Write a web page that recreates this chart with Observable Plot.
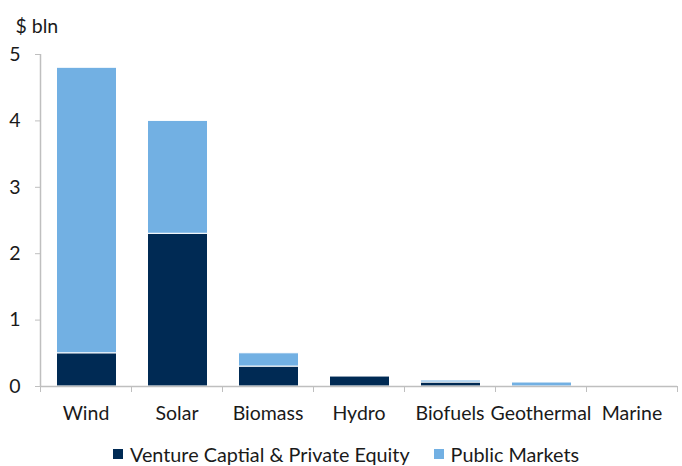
<!DOCTYPE html>
<html>
<head>
<meta charset="utf-8">
<script src="https://cdn.jsdelivr.net/npm/d3@7"></script>
<script src="https://cdn.jsdelivr.net/npm/@observablehq/plot@0.6"></script>
<style>
  html, body { margin: 0; padding: 0; background: #fff; overflow: hidden; }
  body { font-family: Lato, "Open Sans", sans-serif; color: #1a1a1a; }
  #legend { display: flex; align-items: center; height: 24px; margin-top: 10px; margin-left: 113px; font-size: 19.8px; }
  .item { display: flex; align-items: center; margin-right: 24px; }
  .swatch { width: 10px; height: 10px; margin-right: 7px; }
</style>
</head>
<body>
<div id="chart"></div>
<script>
// Clean-energy investment by sector, $ bln
const sectors = ["Wind", "Solar", "Biomass", "Hydro", "Biofuels", "Geothermal", "Marine"];
const ventureCapital = [0.5, 2.3, 0.3, 0.15, 0.06, 0, 0];
const publicMarkets = [4.3, 1.7, 0.2, 0, 0.03, 0.06, 0];
const seriesNames = ["Venture Captial & Private Equity", "Public Markets"];
const seriesColors = ["#002a54", "#72b0e3"];
const yTicks = [0, 1, 2, 3, 4, 5];

// Long-form rows; each sector occupies the unit interval [i, i + 1]
const rows = [];
sectors.forEach((s, i) => {
  rows.push({pos: i, sector: s, series: seriesNames[0], value: ventureCapital[i]});
  rows.push({pos: i, sector: s, series: seriesNames[1], value: publicMarkets[i]});
});
const bars = rows.filter(d => d.value > 0);
const boundaries = d3.range(sectors.length + 1);
const centers = sectors.map((_, i) => i + 0.5);

const font = "Lato, 'Open Sans', sans-serif";
const gray = "#bfbfbf";

const chart = Plot.plot({
  width: 682,
  height: 432,
  marginLeft: 40,
  marginRight: 5,
  marginTop: 54,
  marginBottom: 46,
  style: {fontFamily: font, fontSize: "19.5px", color: "#1a1a1a", background: "#fff"},
  x: {type: "linear", domain: [0, sectors.length]},
  y: {domain: [0, 5]},
  color: {domain: seriesNames, range: seriesColors},
  marks: [
    Plot.rectY(bars, {
      x1: "pos", x2: d => d.pos + 1, y: "value", fill: "series",
      stroke: "white", strokeWidth: 1, insetLeft: 16.5, insetRight: 14.5
    }),
    Plot.ruleX([0], {stroke: gray, strokeWidth: 1.5}),
    Plot.ruleY([0], {stroke: gray, strokeWidth: 1.5}),
    Plot.axisY(yTicks, {tickSize: 5, tickPadding: 15, stroke: gray, fill: "#1a1a1a", label: null, tickFormat: d => d}),
    Plot.axisX(boundaries, {tickSize: 6, tickFormat: () => "", stroke: gray, label: null}),
    Plot.axisX(centers, {tickSize: 0, tickPadding: 20, fill: "#1a1a1a", label: null, tickFormat: d => sectors[d - 0.5]}),
    Plot.text(["$ bln"], {frameAnchor: "top-left", dx: -25, dy: -35, textAnchor: "start", fill: "#1a1a1a"})
  ]
});
document.getElementById("chart").appendChild(chart);

// Legend below the chart
const legend = document.createElement("div");
legend.id = "legend";
seriesNames.forEach((name, i) => {
  const item = document.createElement("div");
  item.className = "item";
  const sw = document.createElement("span");
  sw.className = "swatch";
  sw.style.background = seriesColors[i];
  const label = document.createElement("span");
  label.textContent = name;
  item.appendChild(sw);
  item.appendChild(label);
  legend.appendChild(item);
});
document.body.appendChild(legend);
</script>
</body>
</html>
